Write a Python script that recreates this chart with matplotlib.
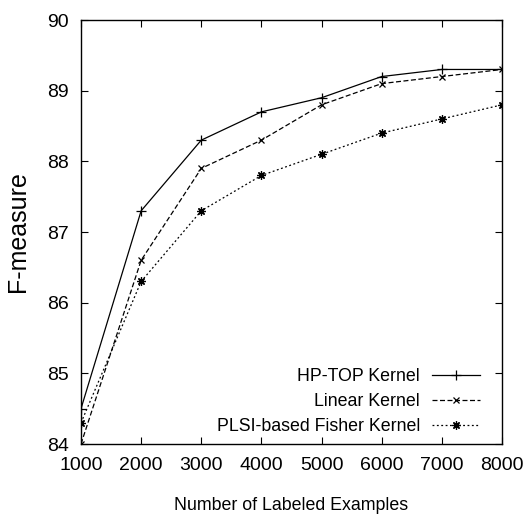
import matplotlib
matplotlib.use('Agg')
import matplotlib.pyplot as plt

# Daten
labeled = [1000, 2000, 3000, 4000, 5000, 6000, 7000, 8000]
hp_top = [84.5, 87.3, 88.3, 88.7, 88.9, 89.2, 89.3, 89.3]
linear = [84.0, 86.6, 87.9, 88.3, 88.8, 89.1, 89.2, 89.3]
plsi_fisher = [84.3, 86.3, 87.3, 87.8, 88.1, 88.4, 88.6, 88.8]
labels = ['HP-TOP Kernel', 'Linear Kernel', 'PLSI-based Fisher Kernel']

plt.rcParams['font.family'] = 'Liberation Sans'

fig = plt.figure(figsize=(5.24, 5.18), dpi=100)
ax = fig.add_axes([81 / 524, 1 - 444 / 518, 421 / 524, 424 / 518])

ax.plot(labeled, hp_top, color='black', lw=0.9, ls='-', marker='+', ms=7, mew=0.9, label=labels[0])
ax.plot(labeled, linear, color='black', lw=0.9, ls=(0, (4, 2)), marker='x', ms=5, mew=0.9, label=labels[1])
ax.plot(labeled, plsi_fisher, color='black', lw=0.9, ls=(0, (1.5, 2)), marker=(8, 2, 0), ms=6, mew=0.9, label=labels[2])

ax.set_xlim(1000, 8000)
ax.set_ylim(84, 90)
ax.set_xticks(labeled)
ax.set_yticks([84, 85, 86, 87, 88, 89, 90])
ax.tick_params(direction='in', top=True, right=True, length=5, labelsize=14, pad=9)
for s in ax.spines.values():
    s.set_linewidth(1.0)

# Achsenbeschriftungen zentriert positionieren
ax.set_xlabel('Number of Labeled Examples', fontsize=12.8, va='center')
ax.xaxis.set_label_coords(0.5, -62 / 424)
ax.set_ylabel('F-measure', fontsize=18, va='center')
ax.yaxis.set_label_coords(-63 / 421, 0.5)

# Legende: Text links, Linienprobe rechts (wie gnuplot)
ax.legend(loc='lower right', frameon=False, markerfirst=False, fontsize=12.8,
          handlelength=2.7, handletextpad=0.67, labelspacing=0.45,
          bbox_to_anchor=(480 / 524, 1 - 435 / 518), bbox_transform=fig.transFigure,
          borderaxespad=0.0, borderpad=0.0)

fig.savefig('out.png', dpi=100)
